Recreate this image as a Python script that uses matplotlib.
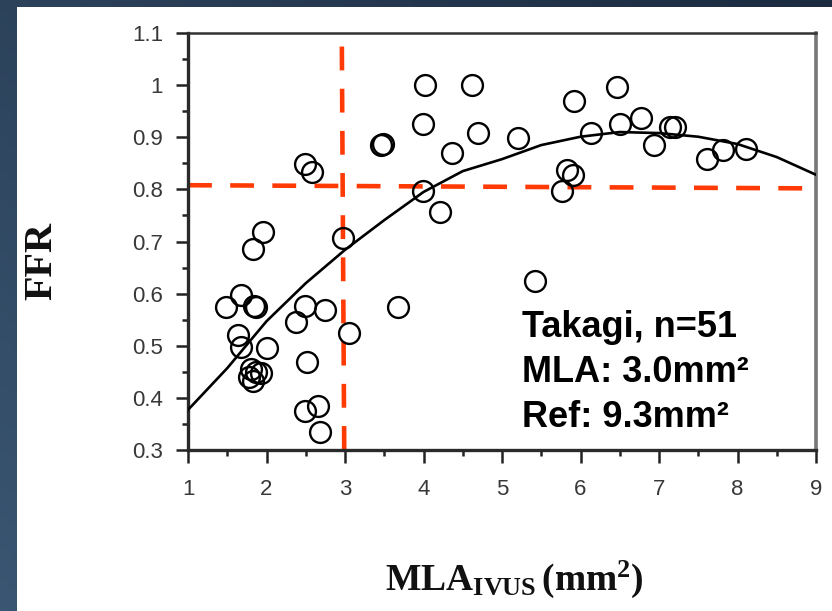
import numpy as np
import matplotlib
matplotlib.use("Agg")
import matplotlib.pyplot as plt
from matplotlib.patches import Rectangle
from matplotlib.ticker import MultipleLocator, FuncFormatter

# ---- data ----
mla = [4.02, 4.62, 3.99, 4.69, 4.36, 3.46, 3.48, 2.49, 2.58, 3.99, 4.21,
       1.95, 1.83, 2.98, 1.49, 1.68, 1.84, 1.86, 1.64, 1.68, 2.01,
       1.78, 1.83, 1.87, 1.80, 1.93,
       2.49, 2.75, 2.38, 3.05, 2.52, 2.49, 2.65, 2.68, 3.68,
       5.92, 6.46, 5.21, 6.13, 6.50, 6.77, 7.14, 7.20, 6.94, 7.61, 7.81,
       8.11, 5.83, 5.91, 5.76, 5.42]
ffr = [1.00, 1.00, 0.925, 0.909, 0.869, 0.885, 0.887, 0.849, 0.834, 0.797, 0.757,
       0.719, 0.685, 0.707, 0.575, 0.597, 0.576, 0.574, 0.520, 0.498, 0.496,
       0.440, 0.432, 0.450, 0.455, 0.448,
       0.576, 0.569, 0.546, 0.524, 0.468, 0.375, 0.385, 0.335, 0.575,
       0.970, 0.997, 0.898, 0.909, 0.925, 0.936, 0.919, 0.919, 0.885, 0.858, 0.876,
       0.877, 0.837, 0.828, 0.797, 0.625]

curve_x = [1, 1.5, 2, 2.5, 3, 3.5, 4, 4.5, 5, 5.5, 6, 6.5, 7, 7.5, 8, 8.5, 9]
curve_y = [0.377, 0.457, 0.547, 0.620, 0.684, 0.741, 0.795, 0.835, 0.858,
           0.885, 0.901, 0.910, 0.908, 0.901, 0.887, 0.862, 0.828]

hline_x = [1.0, 8.85]
hline_y = [0.808, 0.802]
vline_x = [2.96, 2.99]
vline_y = [1.074, 0.30]

x_ticks = [1, 2, 3, 4, 5, 6, 7, 8, 9]
y_ticks = [0.3, 0.4, 0.5, 0.6, 0.7, 0.8, 0.9, 1.0, 1.1]

annot_lines = ["Takagi, n=51", "MLA: 3.0mm\u00b2", "Ref: 9.3mm\u00b2"]

# ---- figure ----
W, H = 832, 611
plt.rcParams['mathtext.fontset'] = 'custom'
plt.rcParams['mathtext.rm'] = 'Liberation Serif:bold'
plt.rcParams['mathtext.bf'] = 'Liberation Serif:bold'
plt.rcParams['mathtext.it'] = 'Liberation Serif:bold'

fig = plt.figure(figsize=(W / 100, H / 100), dpi=100)

# dark slide background with a soft gradient
bg = fig.add_axes([0, 0, 1, 1], zorder=-10)
gx, gy = np.meshgrid(np.linspace(0, 1, 200), np.linspace(0, 1, 200))
t = np.clip(0.55 * gx + 0.45 * (1 - gy), 0, 1)
c0 = np.array([0x3a, 0x56, 0x72]) / 255.0
c1 = np.array([0x1c, 0x2b, 0x40]) / 255.0
img = c0[None, None, :] * (1 - t[..., None]) + c1[None, None, :] * t[..., None]
bg.imshow(img, extent=[0, 1, 0, 1], aspect='auto', origin='upper')
bg.add_patch(Rectangle((17 / W, 0), 1 - 17 / W, 1 - 7 / H,
                       facecolor='white', edgecolor='none'))
bg.set_xlim(0, 1)
bg.set_ylim(0, 1)
bg.axis('off')

def px(x0, y0):
    return x0 / W, 1 - y0 / H

left, right, top, bottom = 188, 816, 33, 450
ax = fig.add_axes([left / W, 1 - bottom / H, (right - left) / W, (bottom - top) / H])
ax.set_facecolor('white')

red = '#ff3a05'
ax.plot(hline_x, hline_y, color=red, lw=3.3, linestyle=(0, (5.2, 4.0)),
        dash_capstyle='butt', zorder=2, clip_on=False)
ax.plot(vline_x, vline_y, color=red, lw=3.3, linestyle=(0, (5.2, 4.0)),
        dash_capstyle='butt', zorder=2, clip_on=False)

ax.plot(curve_x, curve_y, color='black', lw=1.9, zorder=3)
ax.plot(mla, ffr, linestyle='none', marker='o', ms=15, mfc='none',
        mec='black', mew=1.7, zorder=4)

ax.set_xlim(1, 9)
ax.set_ylim(0.3, 1.1)
ax.xaxis.set_minor_locator(MultipleLocator(0.5))
ax.yaxis.set_minor_locator(MultipleLocator(0.05))
ax.set_xticks(x_ticks)
ax.set_yticks(y_ticks)
ax.yaxis.set_major_formatter(FuncFormatter(lambda v, p: ('%g' % round(v, 2))))
ax.xaxis.set_major_formatter(FuncFormatter(lambda v, p: ('%g' % v)))

tick_col = '#383838'
ax.tick_params(axis='both', which='major', direction='out', length=9,
               width=1.8, color='#222222', labelsize=16, labelcolor=tick_col)
ax.tick_params(axis='both', which='minor', direction='out', length=4,
               width=1.8, color='#222222')
ax.tick_params(axis='x', which='major', pad=12)
ax.tick_params(axis='y', which='major', pad=9)
for lab in ax.get_xticklabels() + ax.get_yticklabels():
    lab.set_fontfamily('Liberation Sans')

for side in ['left', 'bottom']:
    ax.spines[side].set_linewidth(2.4)
    ax.spines[side].set_color('#2a2a2a')
ax.spines['top'].set_linewidth(1.8)
ax.spines['top'].set_color('#333333')
ax.spines['right'].set_linewidth(2.6)
ax.spines['right'].set_color('#777777')

# annotation block
baselines = [337, 382, 427]
for txt, b in zip(annot_lines, baselines):
    fig.text(*px(522, b), txt, fontsize=26, fontweight='bold',
             family='Liberation Sans', color='black', ha='left', va='baseline')

# axis labels
fig.text(*px(42, 261), 'FFR', fontsize=29, fontweight='bold',
         family='Liberation Serif', rotation=90, ha='center', va='center',
         color='#111111')
fig.text(*px(514, 590), r'$\mathbf{MLA}_{\mathbf{IVUS}}\,\mathbf{(mm^2)}$',
         fontsize=27, ha='center', va='baseline', color='#111111')

fig.savefig('out.png', dpi=100)
